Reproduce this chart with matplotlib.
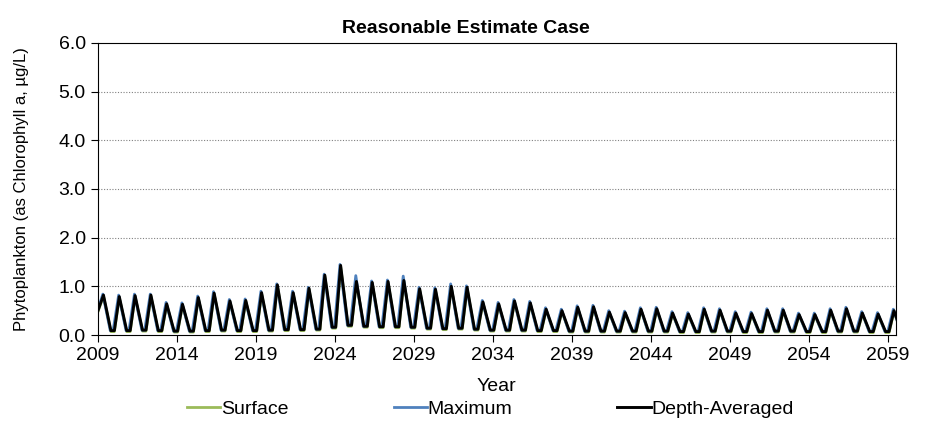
import numpy as np
import matplotlib
matplotlib.use("Agg")
import matplotlib.pyplot as plt

plt.rcParams['font.family'] = ['Liberation Sans', 'DejaVu Sans']

# ----------------------------- data -----------------------------------------
years = list(range(2009, 2060))

# annual bloom peaks (ug/L)
depth_peak = [0.82, 0.79, 0.81, 0.82, 0.64, 0.63, 0.77, 0.86, 0.70, 0.71,
              0.87, 1.03, 0.87, 0.96, 1.23, 1.43, 1.10, 1.08, 1.10, 1.12,
              0.95, 0.94, 1.00, 0.98, 0.68, 0.64, 0.70, 0.66, 0.53, 0.50,
              0.57, 0.58, 0.47, 0.46, 0.53, 0.54, 0.45, 0.43, 0.53, 0.51,
              0.45, 0.44, 0.51, 0.51, 0.42, 0.42, 0.51, 0.54, 0.45, 0.43,
              0.50]
max_peak = [0.84, 0.82, 0.84, 0.84, 0.67, 0.66, 0.80, 0.89, 0.73, 0.74,
            0.90, 1.05, 0.90, 0.98, 1.25, 1.45, 1.22, 1.11, 1.13, 1.21,
            0.98, 0.97, 1.05, 1.01, 0.71, 0.67, 0.73, 0.69, 0.56, 0.53,
            0.60, 0.61, 0.50, 0.49, 0.56, 0.57, 0.48, 0.46, 0.56, 0.54,
            0.48, 0.47, 0.54, 0.54, 0.45, 0.45, 0.54, 0.57, 0.48, 0.46,
            0.53]
surf_peak = [0.80, 0.77, 0.79, 0.80, 0.62, 0.61, 0.75, 0.84, 0.68, 0.69,
             0.85, 1.01, 0.85, 0.94, 1.21, 1.41, 1.08, 1.06, 1.08, 1.10,
             0.93, 0.92, 0.98, 0.96, 0.66, 0.62, 0.68, 0.64, 0.51, 0.48,
             0.55, 0.56, 0.45, 0.44, 0.51, 0.52, 0.43, 0.41, 0.51, 0.49,
             0.43, 0.42, 0.49, 0.49, 0.40, 0.40, 0.49, 0.52, 0.43, 0.41,
             0.48]
# winter minimum following each year's peak
depth_trough = [0.09, 0.09, 0.10, 0.09, 0.08, 0.08, 0.09, 0.10, 0.09, 0.09,
                0.10, 0.11, 0.11, 0.12, 0.16, 0.20, 0.18, 0.17, 0.17, 0.16,
                0.14, 0.13, 0.14, 0.12, 0.10, 0.10, 0.10, 0.09, 0.09, 0.08,
                0.08, 0.08, 0.08, 0.08, 0.08, 0.08, 0.07, 0.07, 0.08, 0.08,
                0.07, 0.07, 0.08, 0.08, 0.07, 0.07, 0.08, 0.08, 0.07, 0.07,
                0.07]
surf_trough = [0.07, 0.07, 0.08, 0.07, 0.06, 0.06, 0.07, 0.08, 0.07, 0.07,
               0.08, 0.09, 0.09, 0.10, 0.14, 0.18, 0.16, 0.15, 0.15, 0.14,
               0.12, 0.11, 0.12, 0.10, 0.08, 0.08, 0.08, 0.07, 0.07, 0.06,
               0.06, 0.06, 0.06, 0.06, 0.06, 0.06, 0.05, 0.05, 0.06, 0.06,
               0.05, 0.05, 0.06, 0.06, 0.05, 0.05, 0.06, 0.06, 0.05, 0.05,
               0.05]
start_value = [0.46, 0.50, 0.48]  # surface, maximum, depth-avg at 2009.0

x_ticks = list(range(2009, 2060, 5))
y_ticks = [0, 1, 2, 3, 4, 5, 6]


# ----------------------------- helpers ---------------------------------------

def season_points(start, peaks, troughs, peak_at, low_from, low_to):
    """peak + short winter low for each year -> (t, v) arrays"""
    t, v = [years[0]], [start]
    for y, p, lo in zip(years, peaks, troughs):
        t += [y + peak_at, y + low_from, y + 1 + low_to]
        v += [p, lo, lo]
    return np.array(t), np.array(v)


fig = plt.figure(figsize=(9.35, 4.24), dpi=100)
ax = fig.add_axes([0.1044, 0.2099, 0.8539, 0.6887])

ts, vs = season_points(start_value[0], surf_peak, surf_trough, 0.37, 0.84, 0.06)
tm, vm = season_points(start_value[1], max_peak, depth_trough, 0.33, 0.80, -0.02)
td, vd = season_points(start_value[2], depth_peak, depth_trough, 0.37, 0.84, 0.06)

ax.plot(ts, vs, color="#9BBB59", lw=2.0, label="Surface")
ax.plot(tm, vm, color="#4F81BD", lw=2.0, label="Maximum")
ax.plot(td, vd, color="black", lw=2.1, label="Depth-Averaged")

ax.set_xlim(2009, 2059.5)
ax.set_ylim(0, 6)
ax.set_xticks(x_ticks)
ax.set_xticklabels([str(x) for x in x_ticks])
ax.set_yticks(y_ticks)
ax.set_yticklabels([f"{y:.1f}" for y in y_ticks])
ax.tick_params(direction="out", length=5, width=0.8, labelsize=14, colors="black")
for y in y_ticks[1:-1]:
    ax.axhline(y, color="#808080", lw=0.8, ls=(0, (1, 1.5)), zorder=0)
for s in ax.spines.values():
    s.set_linewidth(0.8)
    s.set_color("black")

ax.set_title("Reasonable Estimate Case", fontsize=14, fontweight="bold", pad=7, x=0.461)
ax.set_xlabel("Year", fontsize=14, labelpad=10)
ax.set_ylabel("Phytoplankton (as Chlorophyll a, \u00b5g/L)", fontsize=12, labelpad=21)

fig.legend(loc="center", bbox_to_anchor=(0.5246, 0.036), ncol=3, frameon=False,
           fontsize=14, handlelength=1.7, handletextpad=0.05, columnspacing=5.4)

fig.savefig("out.png", dpi=100)
